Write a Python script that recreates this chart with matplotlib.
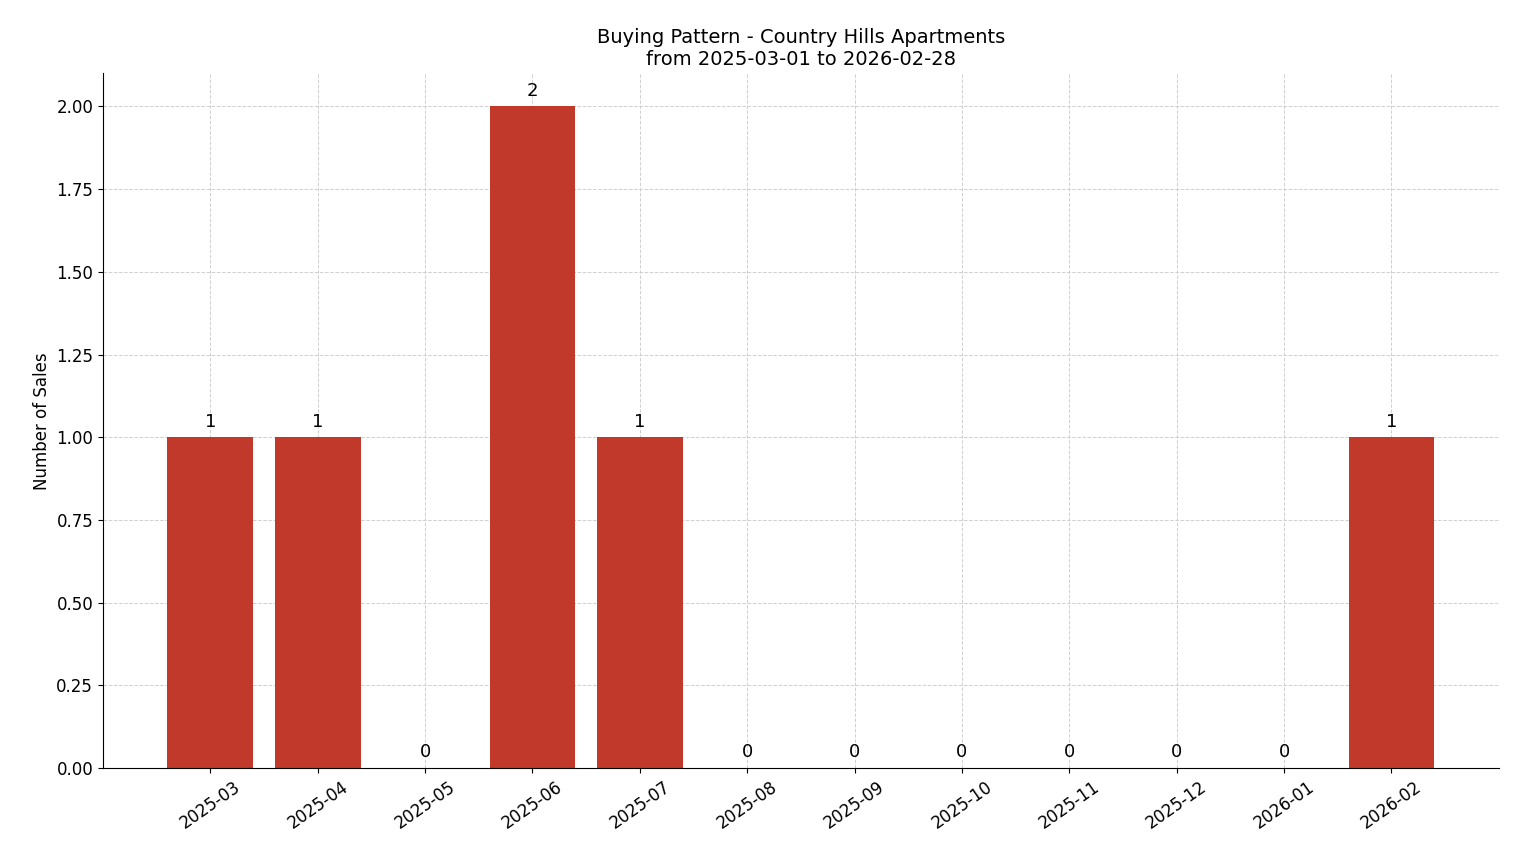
import matplotlib.pyplot as plt

months = ["2025-03", "2025-04", "2025-05", "2025-06", "2025-07", "2025-08",
          "2025-09", "2025-10", "2025-11", "2025-12", "2026-01", "2026-02"]
sales = [1, 1, 0, 2, 1, 0, 0, 0, 0, 0, 0, 1]

fig, ax = plt.subplots(figsize=(15.14, 8.63), dpi=100)
x = list(range(len(months)))
ax.bar(x, sales, width=0.8, color="#c0392b", zorder=2)
for xi, v in zip(x, sales):
    ax.text(xi, v + 0.02, str(v), ha="center", va="bottom", fontsize=13)

ax.set_xticks(x)
ax.set_xticklabels(months, rotation=35, ha="center", fontsize=12)
ax.tick_params(axis="y", labelsize=12)
ax.set_xlim(-1, 12)
ax.set_ylim(0, 2.1)
ax.set_ylabel("Number of Sales", fontsize=12)
ax.set_title("Buying Pattern - Country Hills Apartments\nfrom 2025-03-01 to 2026-02-28", fontsize=14)
ax.grid(True, linestyle="--", color="#d0d0d0", linewidth=0.7, zorder=0)
ax.set_axisbelow(True)
ax.spines["top"].set_visible(False)
ax.spines["right"].set_visible(False)

plt.subplots_adjust(left=0.068, right=0.99, top=0.915, bottom=0.11)
plt.savefig("out.png", dpi=100)
